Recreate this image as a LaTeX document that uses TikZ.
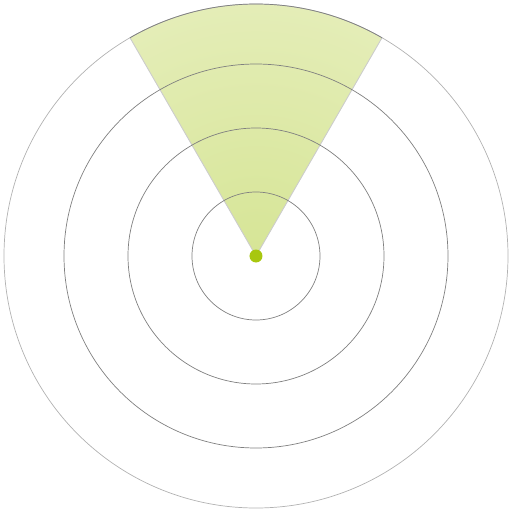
\documentclass[tikz,border=0pt]{standalone}
\usepackage{tikz}
\usetikzlibrary{calc}
\newlength{\px}
\setlength{\px}{0.02cm}
\definecolor{wedgein}{RGB}{214,229,150}
\definecolor{wedgeout}{RGB}{228,237,183}
\definecolor{dotgreen}{RGB}{168,199,15}
\tikzstyle{ring} = [draw=black!50, line width=0.4pt]
\tikzstyle{outerring} = [draw=black!30, line width=0.4pt]
\tikzstyle{wedgeedge} = [draw=black!20, line width=0.5pt]
\tikzstyle{dot} = [circle, fill=dotgreen, inner sep=0pt, minimum size=13\px]

\begin{document}
\begin{tikzpicture}[x=\px, y=\px]
    \useasboundingbox (0,0) rectangle (512,512);
    \coordinate (centre) at (256,256);
    % the sector
    \begin{scope}
      \clip (centre) -- ($(centre)+(60:252)$) arc (60:120:252) -- cycle;
      \shade[inner color=wedgein, outer color=wedgeout] (centre) circle (252);
    \end{scope}
    \draw[wedgeedge] ($(centre)+(120:252)$) -- (centre) -- ($(centre)+(60:252)$);
    % rings
    \draw[ring] (centre) circle (64);
    \draw[ring] (centre) circle (128);
    \draw[ring] (centre) circle (192);
    \draw[outerring] (centre) circle (252);
    \draw[ring] ($(centre)+(60:252)$) arc (60:120:252);
    \node (origin)[dot] at (centre) {};
  \end{tikzpicture}
\end{document}
